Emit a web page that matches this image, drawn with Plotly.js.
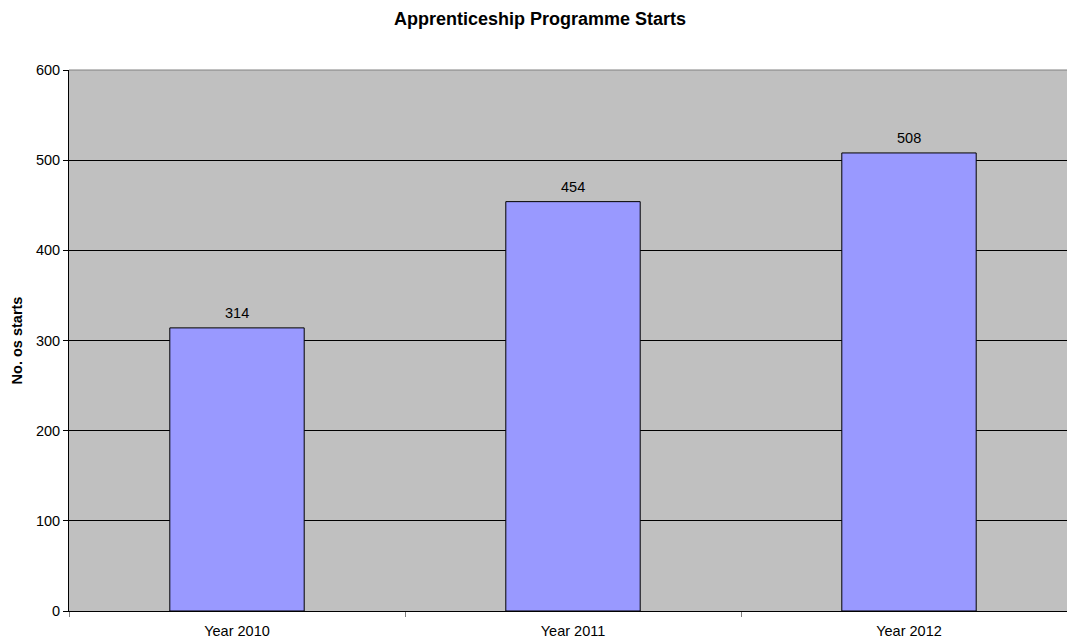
<!DOCTYPE html>
<html>
<head>
<meta charset="utf-8">
<script src="https://cdn.plot.ly/plotly-3.0.1.min.js"></script>
<style>html,body{margin:0;padding:0;background:#fff;}</style>
</head>
<body>
<div id="chart" style="width:1067px;height:643px;"></div>
<script>
const categories = ["Year 2010", "Year 2011", "Year 2012"];
const starts = [314, 454, 508];
const yTicks = [0, 100, 200, 300, 400, 500, 600];

const FONT = "Liberation Sans, Arial, sans-serif";

const trace = {
  type: "bar",
  x: categories,
  y: starts,
  width: 0.4,
  marker: {color: "#9999FF", line: {color: "#000000", width: 1}},
  hoverinfo: "none"
};

const labels = categories.map((c, i) => ({
  x: c, y: starts[i], xref: "x", yref: "y",
  text: String(starts[i]),
  showarrow: false, yanchor: "bottom", xanchor: "center", yshift: 5,
  font: {family: FONT, size: 14.5, color: "#000"}
}));

const layout = {
  width: 1067,
  height: 643,
  margin: {l: 69, r: 0, t: 70, b: 32},
  paper_bgcolor: "#ffffff",
  plot_bgcolor: "#C0C0C0",
  showlegend: false,
  title: {
    text: "<b>Apprenticeship Programme Starts</b>",
    font: {family: FONT, size: 18, color: "#000"},
    x: 540/1067, xref: "container", y: 1 - 19/643, yref: "container", xanchor: "center", yanchor: "middle"
  },
  font: {family: FONT, size: 14.5, color: "#000"},
  xaxis: {
    type: "category",
    range: [-0.5, -0.5 + 998/336],
    showgrid: false,
    showline: true, linecolor: "#000", linewidth: 1,
    ticks: "outside", tickson: "boundaries", ticklen: 5, tickcolor: "#808080",
    tickfont: {size: 14.5, family: FONT},
    ticklabelstandoff: 7,
    automargin: false,
    zeroline: false
  },
  yaxis: {
    range: [0, 600],
    tickvals: yTicks,
    ticktext: yTicks.map(String),
    showgrid: true, gridcolor: "#000", gridwidth: 1,
    showline: true, linecolor: "#000", linewidth: 1,
    ticks: "outside", ticklen: 5, tickcolor: "#000",
    tickfont: {size: 14.5, family: FONT},
    automargin: false,
    zeroline: false,
    title: {
      text: "<b>No. os starts</b>",
      font: {size: 14.5, family: FONT},
      standoff: 9
    }
  },
  annotations: labels,
  shapes: [{
    type: "line", xref: "paper", yref: "paper", x0: 0, x1: 1, y0: 1, y1: 1,
    line: {color: "#808080", width: 1}, layer: "above"
  }]
};

Plotly.newPlot("chart", [trace], layout, {displayModeBar: false, staticPlot: true});
</script>
</body>
</html>
